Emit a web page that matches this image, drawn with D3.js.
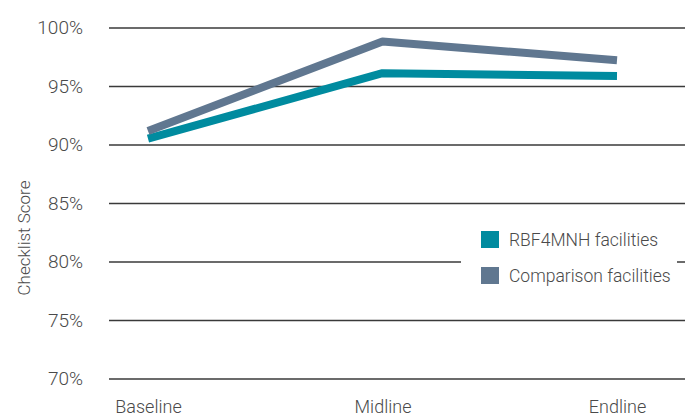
<!DOCTYPE html>
<html>
<head>
<meta charset="utf-8">
<script src="https://cdn.jsdelivr.net/npm/d3@7"></script>
<style>
  body { margin: 0; background: #fff; }
  text { font-family: "Roboto", "Liberation Sans", sans-serif; font-weight: 300; fill: #4a4a4a; }
</style>
</head>
<body>
<div id="chart"></div>
<script>
const WIDTH = 694;
const HEIGHT = 418;

const rounds = ["Baseline", "Midline", "Endline"];
const rbfScores = [90.5, 96.1, 95.85];
const comparisonScores = [91.15, 98.8, 97.2];
const yTicks = [70, 75, 80, 85, 90, 95, 100];
const seriesNames = ["RBF4MNH facilities", "Comparison facilities"];
const seriesColors = ["#008b9f", "#607790"];

const svg = d3.select("#chart")
    .append("svg")
    .attr("width", WIDTH)
    .attr("height", HEIGHT);

const x = d3.scalePoint()
    .domain(rounds)
    .range([148, 617]);

const y = d3.scaleLinear()
    .domain([70, 100])
    .range([378.5, 27.5]);

// gridlines + tick labels
const yAxis = svg.append("g")
    .attr("transform", "translate(109,0)")
    .call(d3.axisLeft(y)
        .tickValues(yTicks)
        .tickSize(-(685 - 109))
        .tickPadding(26)
        .tickFormat(d => d + "%"));
yAxis.select(".domain").remove();
yAxis.selectAll(".tick line")
    .attr("stroke", "#3a3a3a")
    .attr("stroke-width", 1.6);
yAxis.selectAll(".tick text")
    .attr("font-size", 19)
    .attr("fill", "#4a4a4a")
    .attr("font-family", null);

// category labels
const xAxis = svg.append("g")
    .attr("transform", "translate(0,378.5)")
    .call(d3.axisBottom(x).tickSize(0).tickPadding(22));
xAxis.select(".domain").remove();
xAxis.selectAll(".tick text")
    .attr("font-size", 18)
    .attr("fill", "#4a4a4a")
    .attr("font-family", null);

svg.append("text")
    .attr("transform", "translate(30,238) rotate(-90)")
    .attr("text-anchor", "middle")
    .attr("font-size", 17)
    .text("Checklist Score");

// legend background hides the 80% gridline
svg.append("rect")
    .attr("x", 461)
    .attr("y", 220)
    .attr("width", 216)
    .attr("height", 74)
    .attr("fill", "#fff");

const line = d3.line()
    .x((d, i) => x(rounds[i]))
    .y(d => y(d));

const series = [rbfScores, comparisonScores];
svg.selectAll("path.series")
    .data(series)
    .enter()
    .append("path")
    .attr("class", "series")
    .attr("d", d => line(d))
    .attr("fill", "none")
    .attr("stroke", (d, i) => seriesColors[i])
    .attr("stroke-width", 8)
    .attr("stroke-linejoin", "round");

const legend = svg.selectAll("g.legend")
    .data(seriesNames)
    .enter()
    .append("g")
    .attr("class", "legend")
    .attr("transform", (d, i) => `translate(481,${231 + i * 36})`);
legend.append("rect")
    .attr("width", 18)
    .attr("height", 17)
    .attr("fill", (d, i) => seriesColors[i]);
legend.append("text")
    .attr("x", 28)
    .attr("y", 15)
    .attr("font-size", 17.5)
    .text(d => d);
</script>
</body>
</html>
